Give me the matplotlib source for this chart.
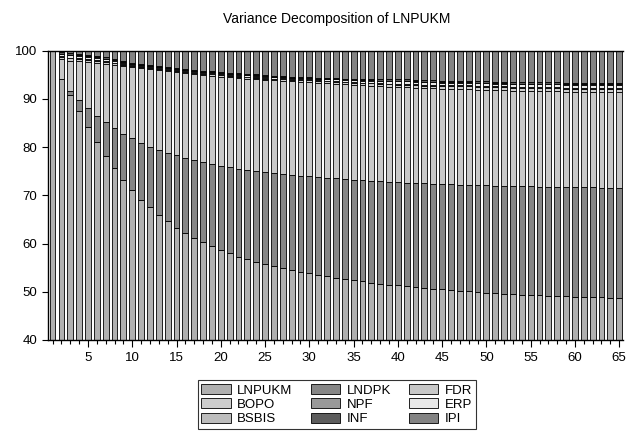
#!/usr/bin/env python3
"""Variance decomposition of LNPUKM, stacked bars in EViews style."""

import matplotlib
matplotlib.use("Agg")
import matplotlib.pyplot as plt
import numpy as np

plt.rcParams["font.family"] = ["Liberation Sans", "DejaVu Sans"]

periods = list(range(1, 66))

lnpukm = [100.0, 94.0, 90.8, 87.5, 84.2, 81.0, 78.2, 75.6, 73.2, 71.0,
          69.1, 67.5, 66.0, 64.6, 63.3, 62.2, 61.2, 60.3, 59.5, 58.7,
          58.0, 57.3, 56.7, 56.2, 55.7, 55.3, 54.9, 54.5, 54.1, 53.8,
          53.5, 53.2, 52.9, 52.6, 52.4, 52.2, 51.9, 51.7, 51.5, 51.3,
          51.1, 50.9, 50.8, 50.6, 50.5, 50.3, 50.2, 50.1, 49.9, 49.8,
          49.7, 49.6, 49.5, 49.4, 49.4, 49.3, 49.2, 49.2, 49.1, 49.0,
          49.0, 48.9, 48.9, 48.8, 48.8]
lndpk = [0.0, 0.2, 0.9, 2.3, 3.8, 5.5, 6.9, 8.3, 9.6, 10.8,
         11.8, 12.6, 13.4, 14.2, 15.0, 15.6, 16.1, 16.6, 17.0, 17.4,
         17.8, 18.2, 18.5, 18.8, 19.1, 19.3, 19.5, 19.7, 19.9, 20.1,
         20.2, 20.4, 20.6, 20.7, 20.8, 20.9, 21.1, 21.2, 21.3, 21.4,
         21.5, 21.6, 21.7, 21.8, 21.8, 22.0, 22.0, 22.1, 22.2, 22.3,
         22.3, 22.4, 22.4, 22.5, 22.5, 22.5, 22.6, 22.6, 22.6, 22.7,
         22.7, 22.8, 22.7, 22.8, 22.8]
fdr = [0.0, 4.0, 6.2, 8.0, 9.6, 10.9, 12.1, 13.1, 14.0, 14.7,
       15.4, 16.0, 16.5, 16.9, 17.2, 17.5, 17.8, 18.0, 18.3, 18.5,
       18.7, 18.8, 19.0, 19.1, 19.1, 19.2, 19.3, 19.4, 19.5, 19.5,
       19.6, 19.6, 19.6, 19.7, 19.7, 19.7, 19.7, 19.7, 19.7, 19.7,
       19.8, 19.8, 19.7, 19.8, 19.8, 19.8, 19.8, 19.8, 19.8, 19.8,
       19.8, 19.8, 19.8, 19.8, 19.8, 19.8, 19.8, 19.8, 19.8, 19.8,
       19.8, 19.8, 19.8, 19.8, 19.8]
bopo = [0.0, 0.5, 0.5, 0.5, 0.5, 0.5, 0.5, 0.4, 0.3, 0.3,
        0.3, 0.3, 0.3, 0.3, 0.3, 0.3, 0.3, 0.3, 0.3, 0.3,
        0.3, 0.3, 0.3, 0.3, 0.3, 0.3, 0.3, 0.3, 0.3, 0.4,
        0.4, 0.4, 0.4, 0.4, 0.4, 0.4, 0.5, 0.5, 0.5, 0.5,
        0.5, 0.5, 0.5, 0.5, 0.5, 0.5, 0.6, 0.6, 0.6, 0.6,
        0.6, 0.6, 0.6, 0.6, 0.6, 0.6, 0.6, 0.6, 0.6, 0.6,
        0.6, 0.6, 0.7, 0.7, 0.7]
npf = [0.0, 0.1, 0.1, 0.1, 0.1, 0.1, 0.1, 0.1, 0.1, 0.1,
       0.1, 0.1, 0.1, 0.1, 0.1, 0.1, 0.1, 0.1, 0.1, 0.1,
       0.1, 0.1, 0.1, 0.1, 0.1, 0.1, 0.1, 0.1, 0.1, 0.1,
       0.1, 0.1, 0.1, 0.1, 0.1, 0.1, 0.1, 0.1, 0.1, 0.2,
       0.2, 0.2, 0.2, 0.2, 0.2, 0.2, 0.2, 0.2, 0.2, 0.2,
       0.2, 0.2, 0.2, 0.2, 0.2, 0.2, 0.2, 0.2, 0.2, 0.2,
       0.2, 0.2, 0.2, 0.2, 0.2]
erp = [0.0, 0.4, 0.5, 0.5, 0.5, 0.5, 0.4, 0.4, 0.3, 0.3,
       0.3, 0.2, 0.2, 0.2, 0.2, 0.2, 0.2, 0.2, 0.2, 0.2,
       0.2, 0.3, 0.3, 0.3, 0.3, 0.3, 0.3, 0.3, 0.3, 0.3,
       0.3, 0.3, 0.4, 0.4, 0.4, 0.4, 0.4, 0.4, 0.5, 0.5,
       0.5, 0.5, 0.5, 0.5, 0.5, 0.5, 0.5, 0.5, 0.5, 0.5,
       0.5, 0.5, 0.5, 0.5, 0.5, 0.6, 0.6, 0.6, 0.6, 0.6,
       0.6, 0.6, 0.6, 0.6, 0.6]
bsbis = [0.0] + [0.1] * 64
inf = [0.0, 0.3, 0.3, 0.3, 0.3, 0.3, 0.3, 0.2, 0.2, 0.2,
       0.2, 0.2, 0.2, 0.2, 0.2, 0.2, 0.2, 0.2, 0.2, 0.2,
       0.2, 0.2, 0.2, 0.2, 0.2, 0.2, 0.2, 0.2, 0.2, 0.2,
       0.2, 0.2, 0.2, 0.2, 0.3, 0.3, 0.3, 0.3, 0.3, 0.3,
       0.3, 0.3, 0.3, 0.3, 0.3, 0.3, 0.3, 0.3, 0.3, 0.3,
       0.3, 0.3, 0.3, 0.3, 0.3, 0.3, 0.3, 0.3, 0.3, 0.3,
       0.3, 0.3, 0.3, 0.3, 0.3]
ipi = [0.0, 0.4, 0.6, 0.7, 0.9, 1.1, 1.4, 1.8, 2.2, 2.5,
       2.7, 3.0, 3.2, 3.4, 3.6, 3.8, 4.0, 4.2, 4.3, 4.5,
       4.6, 4.7, 4.8, 4.9, 5.1, 5.2, 5.3, 5.4, 5.5, 5.5,
       5.6, 5.7, 5.7, 5.8, 5.8, 5.9, 5.9, 6.0, 6.0, 6.0,
       6.0, 6.1, 6.2, 6.2, 6.3, 6.3, 6.3, 6.3, 6.4, 6.4,
       6.5, 6.5, 6.6, 6.6, 6.6, 6.6, 6.6, 6.6, 6.7, 6.7,
       6.7, 6.7, 6.7, 6.7, 6.7]

series = [
    ("LNPUKM", lnpukm, "#b0b0b0"),
    ("LNDPK", lndpk, "#868686"),
    ("FDR", fdr, "#c8c8c8"),
    ("BOPO", bopo, "#cdcdcd"),
    ("NPF", npf, "#999999"),
    ("ERP", erp, "#e8e8e8"),
    ("BSBIS", bsbis, "#bdbdbd"),
    ("INF", inf, "#5c5c5c"),
    ("IPI", ipi, "#838383"),
]

fig = plt.figure(figsize=(6.31, 4.32), dpi=100)
ax = fig.add_axes([0.0756, 0.213, 0.912, 0.670])

x = np.array(periods)
bottom = np.zeros(len(periods))
handles = {}
for name, vals, color in series:
    vals = np.array(vals)
    h = ax.bar(x, vals, width=0.66, bottom=bottom, color=color,
               edgecolor="black", linewidth=0.6)
    handles[name] = h
    bottom += vals

ax.set_xlim(0.45, 65.45)
ax.set_ylim(40, 100)
ax.set_yticks(range(40, 101, 10))
ax.set_xticks(range(5, 66, 5))
ax.set_xticks(periods, minor=True)
ax.tick_params(axis="both", direction="out", labelsize=9.5, width=0.8)
ax.tick_params(axis="x", which="major", length=5)
ax.tick_params(axis="x", which="minor", length=3, width=0.8)
ax.tick_params(axis="y", length=4)
for side in ["top", "right"]:
    ax.spines[side].set_visible(False)
for side in ["left", "bottom"]:
    ax.spines[side].set_linewidth(1.0)
ax.axhline(100, color="black", linewidth=1.0, clip_on=False)

fig.text(0.534, 0.955, "Variance Decomposition of LNPUKM",
         ha="center", va="center", fontsize=10)

# legend fills column by column, so reorder to match the row layout
order = ["LNPUKM", "BOPO", "BSBIS", "LNDPK", "NPF", "INF", "FDR", "ERP", "IPI"]
leg = fig.legend([handles[n] for n in order], order, loc="upper center",
                 bbox_to_anchor=(0.534, 0.12), ncol=3, fontsize=9.5,
                 frameon=True, fancybox=False, edgecolor="black",
                 borderpad=0.3, labelspacing=0.12, handlelength=2.2,
                 handleheight=0.8, handletextpad=0.5, columnspacing=1.4,
                 borderaxespad=0)
leg.get_frame().set_linewidth(0.8)

plt.savefig("out.png", dpi=100)
plt.close()
